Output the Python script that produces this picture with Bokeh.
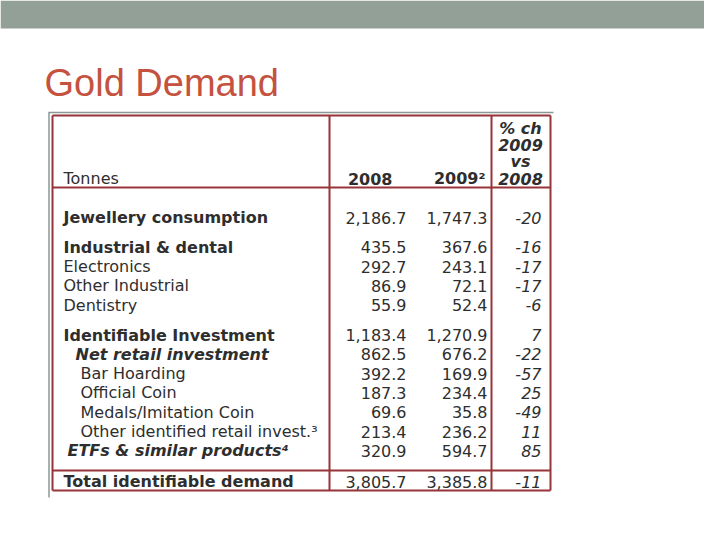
from bokeh.plotting import figure
from bokeh.models import Range1d, ColumnDataSource
from bokeh.embed import file_html
from bokeh.resources import INLINE
from bokeh.core.properties import value

# ---- data ----
title = "Gold Demand"
unit_label = "Tonnes"
year_headers = ["2008", "2009²"]
pct_header = ["% ch", "2009", "vs", "2008"]
labels = ["Jewellery consumption", "Industrial & dental", "Electronics", "Other Industrial",
          "Dentistry", "Identifiable Investment", "Net retail investment", "Bar Hoarding",
          "Official Coin", "Medals/Imitation Coin", "Other identified retail invest.³",
          "ETFs & similar products⁴", "Total identifiable demand"]
v2008 = [2186.7, 435.5, 292.7, 86.9, 55.9, 1183.4, 862.5, 392.2, 187.3, 69.6, 213.4, 320.9, 3805.7]
v2009 = [1747.3, 367.6, 243.1, 72.1, 52.4, 1270.9, 676.2, 169.9, 234.4, 35.8, 236.2, 594.7, 3385.8]
pct = [-20, -16, -17, -17, -6, 7, -22, -57, 25, -49, 11, 85, -11]
section = [0, 1, 1, 1, 1, 2, 2, 2, 2, 2, 2, 2, 3]
level = [0, 0, 0, 0, 0, 0, 1, 2, 2, 2, 2, 1, 0]
style = ["bold", "bold", "normal", "normal", "normal", "bold", "bold italic", "normal",
         "normal", "normal", "normal", "bold italic", "bold"]

# ---- layout ----
W, H = 704, 524
p = figure(width=W, height=H, output_backend="svg", toolbar_location=None,
           x_range=Range1d(0, W), y_range=Range1d(H, 0),
           min_border=0, outline_line_color=None)
p.axis.visible = False
p.grid.visible = False
p.background_fill_color = "white"

# top band
p.quad(left=[0], right=[W], top=[0], bottom=[28], fill_color="#92A098", line_color=None)

# title
p.text(x=[44], y=[82], text=[title], text_font=value("Liberation Sans"),
       text_font_size="38px", text_color="#C4523F", text_baseline="middle")

# image frame (gray)
FR = "#8A9896"
p.segment(x0=[48], y0=[112], x1=[553], y1=[112], line_color=FR, line_width=1.5)
p.segment(x0=[48.5], y0=[112], x1=[48.5], y1=[497], line_color=FR, line_width=1.5)

# table borders
L, R, T, B = 52, 550, 115, 490
C1, C2 = 329, 491
HL, TL = 187, 470
RED = "#973439"
p.segment(x0=[L, L, L, L, L, R, C1, C2], y0=[T, B, HL, TL, T, T, T, T],
          x1=[R, R, R, R, L, R, C1, C2], y1=[T, B, HL, TL, B, B, B, B],
          line_color=RED, line_width=2)

TXT = "#2E2E2E"
FONT = value("DejaVu Sans")
FS = "16px"

# header
p.text(x=[63], y=[178], text=[unit_label], text_font=FONT, text_font_size=FS,
       text_color=TXT, text_baseline="middle")
p.text(x=[392, 485], y=[178, 178], text=year_headers, text_font=FONT, text_font_size=FS,
       text_color=TXT, text_baseline="middle", text_align="right", text_font_style="bold")
p.text(x=[520] * 4, y=[128 + 16.7 * i for i in range(4)], text=pct_header, text_font=FONT,
       text_font_size=FS, text_color=TXT, text_baseline="middle", text_align="center",
       text_font_style="bold italic")

# rows
y0, step, gap = 217, 19.3, 10.5
ys = [y0 + i * step + section[i] * gap for i in range(len(labels))]
ys[-1] += 1
indent = {0: 63, 1: 67, 2: 80}
xs = [indent[l] for l in level]
xs[6] = 75

def fmt(v):
    return f"{v:,.1f}"

src = ColumnDataSource(dict(x=xs, y=ys, label=labels, style=style,
                            a=[fmt(v) for v in v2008], b=[fmt(v) for v in v2009],
                            c=[str(v) for v in pct]))
p.text(x="x", y="y", text="label", source=src, text_font=FONT, text_font_size=FS,
       text_color=TXT, text_baseline="middle", text_font_style="style")
p.text(x=406, y="y", text="a", source=src, text_font=FONT, text_font_size=FS,
       text_color=TXT, text_baseline="middle", text_align="right")
p.text(x=487, y="y", text="b", source=src, text_font=FONT, text_font_size=FS,
       text_color=TXT, text_baseline="middle", text_align="right")
p.text(x=541, y="y", text="c", source=src, text_font=FONT, text_font_size=FS,
       text_color=TXT, text_baseline="middle", text_align="right", text_font_style="italic")

open("out.html", "w").write(file_html(p, INLINE))
